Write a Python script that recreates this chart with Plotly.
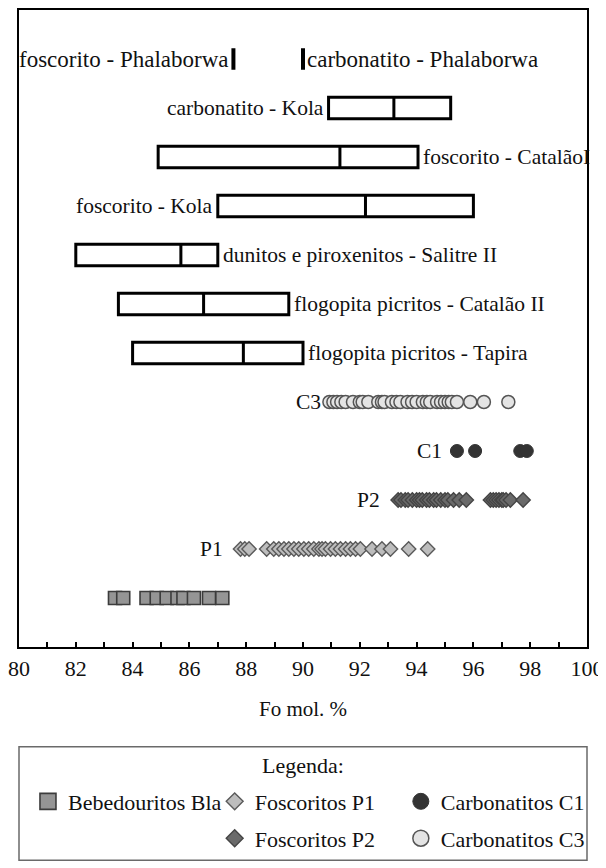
import plotly.graph_objects as go

FONT = "Liberation Serif"
TXT = "#111111"

# ---------------- data (Fo mol. %) ----------------
# box summaries
box_names = ["carbonatito - Kola", "foscorito - CatalãoI", "foscorito - Kola",
             "dunitos e piroxenitos - Salitre II", "flogopita picritos - Catalão II",
             "flogopita picritos - Tapira"]
box_rows = [11, 10, 9, 8, 7, 6]
box_q1 = [90.9, 84.9, 87.0, 82.0, 83.5, 84.0]
box_median = [93.2, 91.3, 92.2, 85.7, 86.5, 87.9]
box_q3 = [95.2, 94.05, 96.0, 87.0, 89.5, 90.0]
box_label_side = ["left", "right", "left", "right", "right", "right"]

# single-value ranges (Phalaborwa)
phal_names = ["foscorito - Phalaborwa", "carbonatito - Phalaborwa"]
phal_rows = [12, 12]
phal_values = [87.55, 90.0]
phal_label_side = ["left", "right"]

# analysed olivines
bla_x = [83.38, 83.67, 84.49, 84.85, 85.2, 85.58, 85.79, 86.16, 86.69, 87.16]
p1_x = [87.8, 87.95, 88.1, 88.72, 88.97, 89.15, 89.33, 89.5, 89.68, 89.85, 90.03,
        90.2, 90.38, 90.56, 90.67, 90.79, 90.97, 91.14, 91.32, 91.5, 91.67, 91.85,
        92.02, 92.43, 92.78, 93.08, 93.72, 94.39]
p2_x = [93.35, 93.45, 93.6, 93.7, 93.85, 94.0, 94.1, 94.2, 94.35, 94.45, 94.6,
        94.7, 94.85, 95.0, 95.1, 95.3, 95.5, 95.75,
        96.6, 96.7, 96.8, 96.9, 97.0, 97.05, 97.15, 97.3, 97.75]
c1_x = [95.42, 96.06, 97.65, 97.88]
c3_x = [90.93, 91.07, 91.2, 91.35, 91.5, 91.76, 92.0, 92.1, 92.3, 92.65, 92.78,
        92.87, 93.13, 93.29, 93.43, 93.68, 93.84, 94.0, 94.22, 94.36, 94.48, 94.72,
        94.86, 95.0, 95.13, 95.24, 95.42, 95.89, 96.37, 97.23]
row_bla, row_p1, row_p2, row_c1, row_c3 = 1, 2, 3, 4, 5

series_labels = ["C3", "C1", "P2", "P1"]
series_label_rows = [5, 4, 3, 2]
series_label_x = [90.7, 94.97, 92.78, 87.25]

x_ticks = list(range(80, 101, 2))
legend_names = ["Bebedouritos Bla", "Foscoritos P1", "Carbonatitos C1",
                "Foscoritos P2", "Carbonatitos C3"]

# ---------------- styles ----------------
st_bla = dict(symbol="square", color="#959595", line=dict(color="#3c3c3c", width=1.6))
st_p1 = dict(symbol="diamond", color="#bdbdbd", line=dict(color="#5a5a5a", width=1.4))
st_p2 = dict(symbol="diamond", color="#6a6a6a", line=dict(color="#454545", width=1.4))
st_c1 = dict(symbol="circle", color="#333333", line=dict(color="#333333", width=1))
st_c3 = dict(symbol="circle", color="#e4e4e4", line=dict(color="#555555", width=1.5))

fig = go.Figure()

fig.add_trace(go.Box(
    orientation="h", y=box_rows, q1=box_q1, median=box_median, q3=box_q3,
    lowerfence=box_q1, upperfence=box_q3, width=0.44, whiskerwidth=0,
    line=dict(color="black", width=3), fillcolor="white", boxpoints=False,
    showlegend=False, hoverinfo="skip"))

fig.add_trace(go.Box(
    orientation="h", y=phal_rows, q1=phal_values, median=phal_values, q3=phal_values,
    lowerfence=phal_values, upperfence=phal_values, width=0.44, whiskerwidth=0,
    line=dict(color="black", width=4), fillcolor="white", boxpoints=False,
    showlegend=False, hoverinfo="skip"))

for xs, row, st, size in [(bla_x, row_bla, st_bla, 13), (p1_x, row_p1, st_p1, 11),
                          (p2_x, row_p2, st_p2, 11), (c1_x, row_c1, st_c1, 13),
                          (c3_x, row_c3, st_c3, 13)]:
    fig.add_trace(go.Scatter(x=xs, y=[row] * len(xs), mode="markers",
                             marker=dict(size=size, **st), showlegend=False,
                             hoverinfo="x"))

# legend-only entries (bigger symbols, each in own legend for the layout)
leg_styles = [(st_bla, 16), (st_p1, 13), (st_c1, 16), (st_p2, 13), (st_c3, 16)]
leg_keys = ["legend", "legend2", "legend3", "legend4", "legend5"]
for name, (st, size), key in zip(legend_names, leg_styles, leg_keys):
    fig.add_trace(go.Scatter(x=[None], y=[None], mode="markers", name=name,
                             marker=dict(size=size, **st), legend=key, showlegend=True))

annotations = []
for name, row, q1, q3, side in zip(box_names, box_rows, box_q1, box_q3, box_label_side):
    if side == "left":
        annotations.append(dict(x=q1, y=row, text=name, xanchor="right", xshift=-3,
                                font=dict(family=FONT, size=21.5, color=TXT)))
    else:
        annotations.append(dict(x=q3, y=row, text=name, xanchor="left", xshift=3,
                                font=dict(family=FONT, size=21.5, color=TXT)))
for name, row, v, side in zip(phal_names, phal_rows, phal_values, phal_label_side):
    if side == "left":
        annotations.append(dict(x=v, y=row, text=name, xanchor="right", xshift=-2,
                                font=dict(family=FONT, size=23, color=TXT)))
    else:
        annotations.append(dict(x=v, y=row, text=name, xanchor="left", xshift=2,
                                font=dict(family=FONT, size=23, color=TXT)))
for name, row, v in zip(series_labels, series_label_rows, series_label_x):
    annotations.append(dict(x=v, y=row, text=name, xanchor="right",
                            font=dict(family=FONT, size=21.5, color=TXT)))
for a in annotations:
    a.update(xref="x", yref="y", showarrow=False, yanchor="middle")

annotations.append(dict(x=0.5, y=-0.1862, xref="paper", yref="paper", text="Legenda:",
                        showarrow=False, xanchor="center", yanchor="middle",
                        font=dict(family=FONT, size=22, color=TXT)))

leg_base = dict(bgcolor="rgba(0,0,0,0)", borderwidth=0, yanchor="middle",
                font=dict(family=FONT, size=22, color=TXT), itemwidth=30)
leg_pos = [(0.0158, -0.2426, "left"), (0.3445, -0.2426, "left"), (1.005, -0.2426, "right"),
           (0.3445, -0.3005, "left"), (1.005, -0.3005, "right")]

fig.update_layout(
    width=606, height=868,
    margin=dict(l=10, r=27, t=0, b=229),
    paper_bgcolor="white", plot_bgcolor="white",
    font=dict(family=FONT, size=21, color=TXT),
    showlegend=True,
    annotations=annotations,
    shapes=[dict(type="rect", xref="paper", yref="paper", x0=0, x1=1,
                 y0=-0.3349, y1=-0.1565, line=dict(color="#6a6a6a", width=1.5))],
    xaxis=dict(range=[80, 100], tickmode="array", tickvals=x_ticks,
               ticks="inside", ticklen=5, tickwidth=1.5, tickcolor="black",
               minor=dict(tickmode="linear", tick0=80, dtick=1, ticks="inside",
                          ticklen=5, tickwidth=1.5, tickcolor="black"),
               showline=True, linecolor="black", linewidth=2, mirror=True,
               showgrid=False, zeroline=False, ticklabelstandoff=1,
               ticklabeloverflow="allow",
               tickfont=dict(family=FONT, size=22, color=TXT),
               title=dict(text="Fo mol. %", standoff=21,
                          font=dict(family=FONT, size=21, color=TXT))),
    yaxis=dict(range=[0, 13], type="linear", showticklabels=False, ticks="",
               showline=True, linecolor="black", linewidth=2, mirror=True,
               showgrid=False, zeroline=False),
)
for key, (lx, ly, anc) in zip(leg_keys, leg_pos):
    fig.update_layout({key: dict(x=lx, y=ly, xanchor=anc, **leg_base)})

fig.write_html("out.html")
